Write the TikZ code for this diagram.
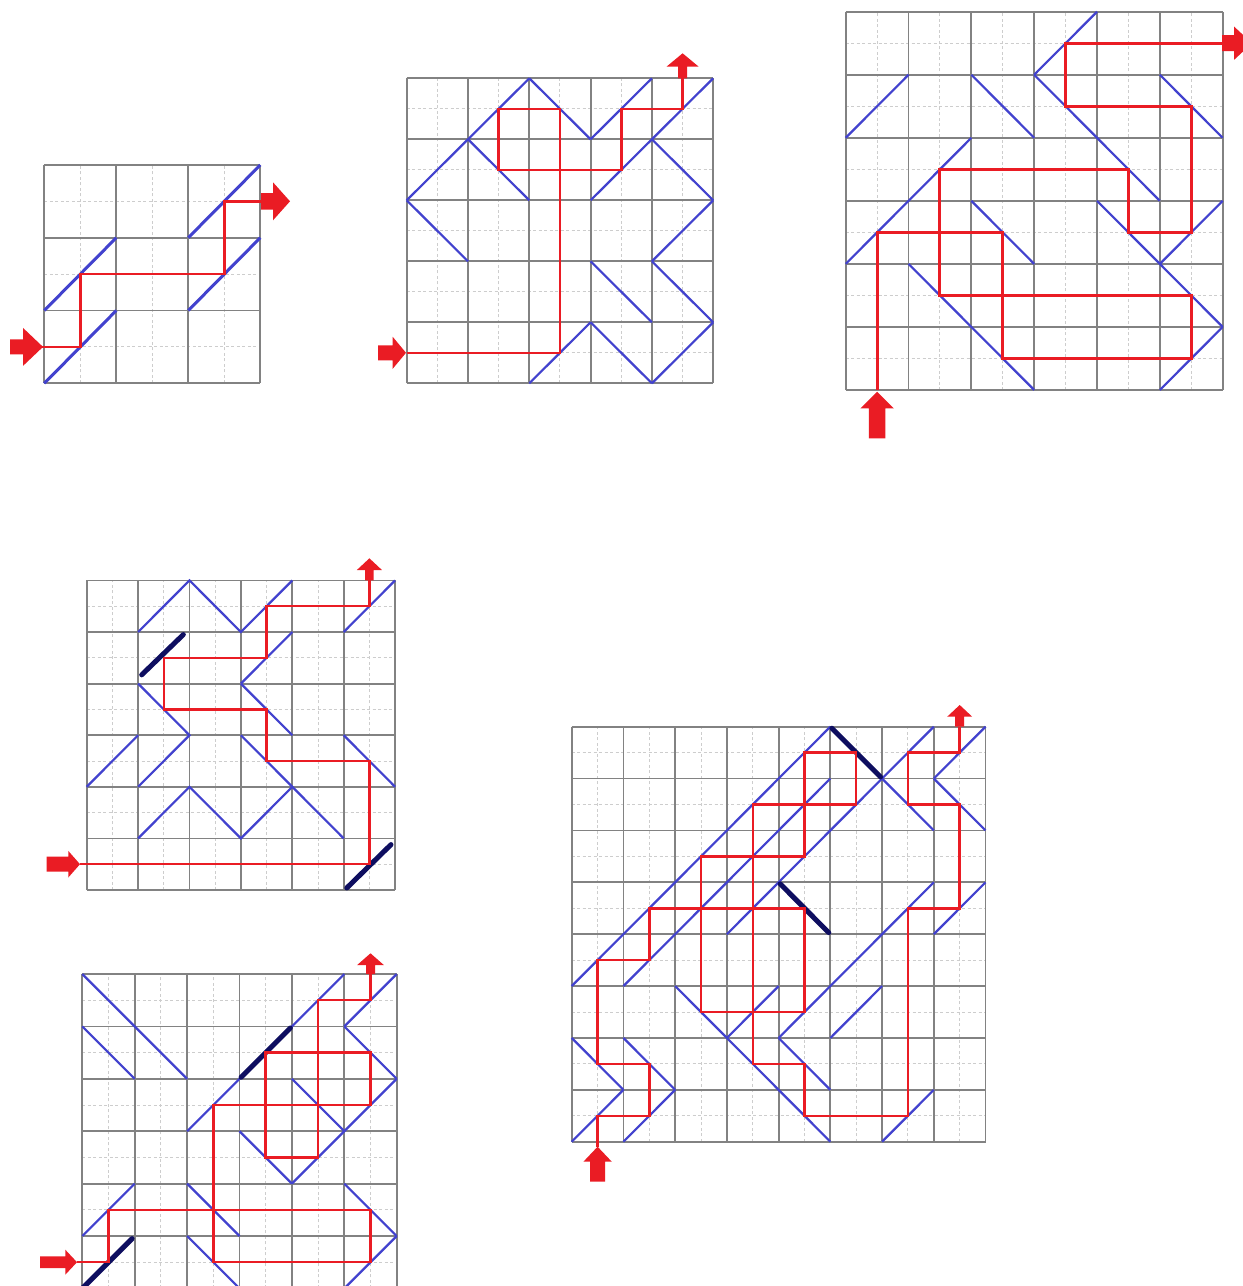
\documentclass[tikz,border=0pt]{standalone}
\definecolor{gridgray}{RGB}{130,130,130}
\definecolor{subgray}{RGB}{205,205,205}
\definecolor{mirrorblue}{RGB}{66,66,206}
\definecolor{beamred}{RGB}{234,28,36}
\definecolor{navyblue}{RGB}{14,14,96}
\tikzset{
  gridline/.style={gridgray, line width=1.8pt},
  subline/.style={subgray, line width=1pt, dash pattern=on 3pt off 2.5pt},
  mirror/.style={mirrorblue, line width=2.2pt},
  darkmirror/.style={navyblue, line width=5pt, line cap=round},
  beam/.style={beamred, line width=2.5pt},
}
\newcommand{\puzzlegrid}[1]{%
  \pgfmathtruncatemacro{\nm}{#1-1}%
  \foreach \i in {0,...,\nm} {
    \draw[subline] (\i+0.5,0) -- (\i+0.5,#1);
    \draw[subline] (0,\i+0.5) -- (#1,\i+0.5);
  }
  \foreach \i in {0,...,#1} {
    \draw[gridline] (\i,0) -- (\i,#1);
    \draw[gridline] (0,\i) -- (#1,\i);
  }
}
% right-pointing block arrow: tail x, tip x, centre y, shaft half, head half, head length
\newcommand{\arrowright}[6]{%
  \fill[beamred] (#1,#3-#4) -- (#2-#6,#3-#4) -- (#2-#6,#3-#5) -- (#2,#3)
    -- (#2-#6,#3+#5) -- (#2-#6,#3+#4) -- (#1,#3+#4) -- cycle;}
% up-pointing block arrow: centre x, tail y, tip y, shaft half, head half, head length
\newcommand{\arrowup}[6]{%
  \fill[beamred] (#1-#4,#2) -- (#1-#4,#3+#6) -- (#1-#5,#3+#6) -- (#1,#3)
    -- (#1+#5,#3+#6) -- (#1+#4,#3+#6) -- (#1+#4,#2) -- cycle;}
\begin{document}
\begin{tikzpicture}[x=1pt,y=-1pt]
\useasboundingbox (0,0) rectangle (1243,1286);
\fill[white] (0,0) rectangle (1243,1286);
\clip (0,0) rectangle (1243,1286);

% ---------- Grid 1 (3x3) ----------
\begin{scope}[shift={(44.3,383.3)}, xscale=72, yscale=-72.8]
  \puzzlegrid{3}
  \draw[mirror, line width=3pt] (0,0) -- (1,1);
  \draw[mirror, line width=3pt] (0,1) -- (1,2);
  \draw[mirror, line width=3pt] (2,1) -- (3,2);
  \draw[mirror, line width=3pt] (2,2) -- (3,3);
  \draw[beam] (-0.03,0.5) -- (0.5,0.5) -- (0.5,1.5) -- (2.5,1.5) -- (2.5,2.5) -- (3.02,2.5);
\end{scope}
\arrowright{10}{43}{346.9}{7.5}{19}{20}
\arrowright{261}{290}{201.3}{8.3}{19}{17}

% ---------- Grid 2 (5x5) ----------
\begin{scope}[shift={(406.7,383.3)}, xscale=61.3, yscale=-61.0]
  \puzzlegrid{5}
  \draw[mirror] (0,3) -- (2,5);
  \draw[mirror] (2,5) -- (3,4);
  \draw[mirror] (3,4) -- (4,5);
  \draw[mirror] (3,3) -- (5,5);
  \draw[mirror] (1,4) -- (2,3);
  \draw[mirror] (4,4) -- (5,3);
  \draw[mirror] (0,3) -- (1,2);
  \draw[mirror] (5,3) -- (4,2);
  \draw[mirror] (4,2) -- (5,1);
  \draw[mirror] (3,2) -- (4,1);
  \draw[mirror] (2,0) -- (3,1);
  \draw[mirror] (3,1) -- (4,0);
  \draw[mirror] (4,0) -- (5,1);
  \draw[beam] (0,0.5) -- (2.5,0.5) -- (2.5,4.5) -- (1.5,4.5) -- (1.5,3.5) -- (3.5,3.5)
    -- (3.5,4.5) -- (4.5,4.5) -- (4.5,5);
\end{scope}
\arrowright{378}{406}{352.8}{7.5}{16}{13.3}
\arrowup{682.6}{78.3}{53.3}{4.5}{16}{13.3}

% ---------- Grid 3 (6x6) ----------
\begin{scope}[shift={(845.7,390)}, xscale=62.83, yscale=-63.05]
  \puzzlegrid{6}
  \draw[mirror] (3,5) -- (4,6);
  \draw[mirror] (0,4) -- (1,5);
  \draw[mirror] (2,5) -- (3,4);
  \draw[mirror] (3,5) -- (5,3);
  \draw[mirror] (5,5) -- (6,4);
  \draw[mirror] (0,2) -- (2,4);
  \draw[mirror] (2,3) -- (3,2);
  \draw[mirror] (4,3) -- (6,1);
  \draw[mirror] (5,2) -- (6,3);
  \draw[mirror] (1,2) -- (3,0);
  \draw[mirror] (5,0) -- (6,1);
  \draw[beam, line width=3pt] (0.5,0) -- (0.5,2.5) -- (2.5,2.5) -- (2.5,0.5) -- (5.5,0.5) -- (5.5,1.5)
    -- (1.5,1.5) -- (1.5,3.5) -- (4.5,3.5) -- (4.5,2.5) -- (5.5,2.5) -- (5.5,4.5)
    -- (3.5,4.5) -- (3.5,5.5) -- (6,5.5);
\end{scope}
\arrowup{877.1}{438.3}{391.7}{8.3}{16.7}{16.7}
\arrowright{1222}{1252}{43.2}{8}{16.7}{18}

% ---------- Grid 4 (6x6) ----------
\begin{scope}[shift={(86.7,890)}, xscale=51.4, yscale=-51.6]
  \puzzlegrid{6}
  \draw[mirror] (1,5) -- (2,6) -- (3,5) -- (4,6);
  \draw[mirror] (5,5) -- (6,6);
  \draw[mirror] (3,4) -- (4,5);
  \draw[mirror] (1,4) -- (2,3) -- (1,2);
  \draw[mirror] (3,4) -- (4,3);
  \draw[mirror] (1,3) -- (0,2);
  \draw[mirror] (3,3) -- (5,1);
  \draw[mirror] (5,3) -- (6,2);
  \draw[mirror] (1,1) -- (2,2) -- (3,1) -- (4,2);
  \draw[darkmirror] (1.07,4.17) -- (1.88,4.95);
  \draw[darkmirror] (5.06,0.04) -- (5.92,0.88);
  \draw[beam] (-0.13,0.5) -- (5.5,0.5) -- (5.5,2.5) -- (3.5,2.5) -- (3.5,3.5) -- (1.5,3.5)
    -- (1.5,4.5) -- (3.5,4.5) -- (3.5,5.5) -- (5.5,5.5) -- (5.5,6);
\end{scope}
\arrowright{46.7}{80}{864.2}{7.5}{13.3}{11.7}
\arrowup{369.4}{580.4}{558.3}{4.2}{12.5}{11.7}

% ---------- Grid 5 (6x6, cut at bottom) ----------
\begin{scope}[shift={(82.3,1288.4)}, xscale=52.4, yscale=-52.4]
  \puzzlegrid{6}
  \draw[mirror] (0,6) -- (2,4);
  \draw[mirror] (0,5) -- (1,4);
  \draw[mirror] (2,3) -- (5,6);
  \draw[mirror] (5,5) -- (6,6);
  \draw[mirror] (5,5) -- (6,4);
  \draw[mirror] (4,4) -- (5,3);
  \draw[mirror] (6,4) -- (4,2);
  \draw[mirror] (3,3) -- (4,2);
  \draw[mirror] (0,1) -- (1,2);
  \draw[mirror] (2,2) -- (3,1);
  \draw[mirror] (5,2) -- (6,1);
  \draw[mirror] (6,1) -- (5,0);
  \draw[mirror] (2,1) -- (3,0);
  \draw[darkmirror] (0,0) -- (0.95,0.95);
  \draw[darkmirror] (3.03,4.03) -- (3.97,4.97);
  \draw[beam] (-0.1,0.5) -- (0.5,0.5) -- (0.5,1.5) -- (2.5,1.5) -- (2.5,0.5) -- (5.5,0.5)
    -- (5.5,1.5) -- (2.5,1.5) -- (2.5,3.5) -- (4.5,3.5) -- (4.5,2.5) -- (3.5,2.5)
    -- (3.5,4.5) -- (5.5,4.5) -- (5.5,3.5) -- (4.5,3.5) -- (4.5,5.5) -- (5.5,5.5) -- (5.5,6);
\end{scope}
\arrowright{40}{77}{1262.2}{5.8}{12.5}{11.7}
\arrowup{370.5}{974}{953.3}{4.5}{13.3}{11.7}

% ---------- Grid 6 (8x8) ----------
\begin{scope}[shift={(571.7,1141.7)}, xscale=51.73, yscale=-51.88]
  \puzzlegrid{8}
  \draw[mirror] (0,3) -- (5,8);
  \draw[mirror] (1,3) -- (5,7);
  \draw[mirror] (3,4) -- (7,8);
  \draw[mirror] (6,7) -- (7,6);
  \draw[mirror] (7,7) -- (8,8);
  \draw[mirror] (7,7) -- (8,6);
  \draw[mirror] (4,2) -- (7,5);
  \draw[mirror] (7,4) -- (8,5);
  \draw[mirror] (5,2) -- (6,3);
  \draw[mirror] (4,2) -- (5,1);
  \draw[mirror] (2,3) -- (5,0);
  \draw[mirror] (3,2) -- (4,3);
  \draw[mirror] (6,0) -- (7,1);
  \draw[mirror] (0,2) -- (1,1);
  \draw[mirror] (0,0) -- (1,1);
  \draw[mirror] (1,2) -- (2,1);
  \draw[mirror] (1,0) -- (2,1);
  \draw[darkmirror] (5.03,7.97) -- (5.97,7.03);
  \draw[darkmirror] (4.03,4.97) -- (4.97,4.03);
  \draw[beam] (0.5,-0.1) -- (0.5,0.5) -- (1.5,0.5) -- (1.5,1.5) -- (0.5,1.5) -- (0.5,3.5)
    -- (1.5,3.5) -- (1.5,4.5) -- (2.5,4.5) -- (2.5,5.5) -- (3.5,5.5) -- (3.5,6.5)
    -- (4.5,6.5) -- (4.5,7.5) -- (5.5,7.5) -- (5.5,6.5) -- (4.5,6.5) -- (4.5,5.5)
    -- (3.5,5.5) -- (3.5,4.5) -- (2.5,4.5) -- (2.5,2.5) -- (4.5,2.5) -- (4.5,4.5)
    -- (3.5,4.5) -- (3.5,1.5) -- (4.5,1.5) -- (4.5,0.5) -- (6.5,0.5) -- (6.5,4.5)
    -- (7.5,4.5) -- (7.5,6.5) -- (6.5,6.5) -- (6.5,7.5) -- (7.5,7.5) -- (7.5,8);
\end{scope}
\arrowup{597.6}{1181.7}{1146.7}{7.5}{14.2}{15}
\arrowup{959.7}{726.7}{705}{4.5}{12.5}{11.7}
\end{tikzpicture}
\end{document}
